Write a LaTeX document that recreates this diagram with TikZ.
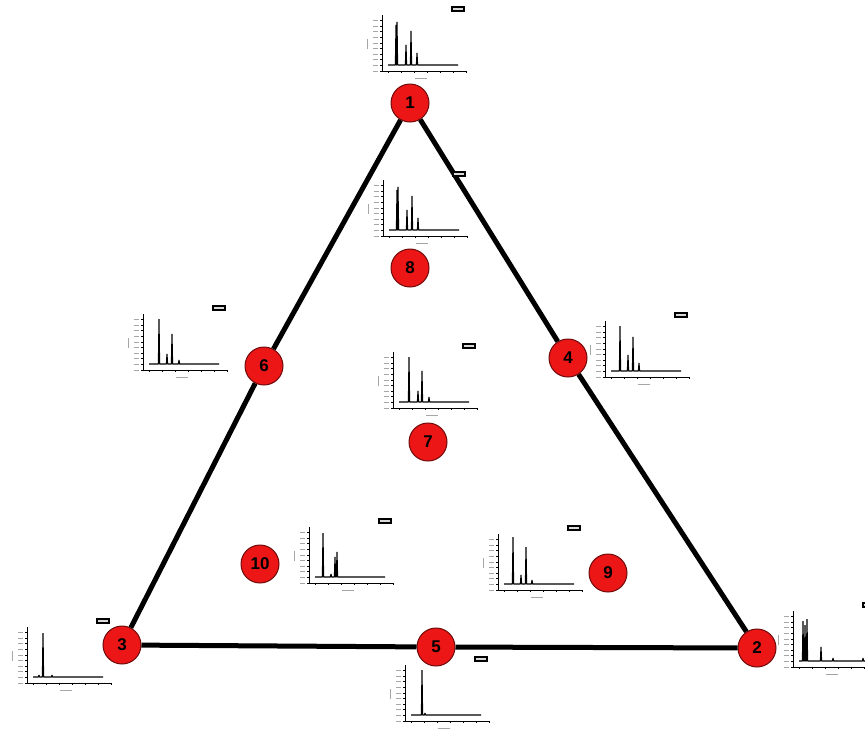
\documentclass[tikz,border=0pt]{standalone}
\usepackage{fontspec}
\setsansfont{Liberation Sans}
\usetikzlibrary{positioning}

\definecolor{vermelho}{RGB}{236,22,22}
\definecolor{bordo}{RGB}{110,10,10}

% small chromatogram: #1 axis corner, #2 list of peaks (position/height)
\newcommand{\crom}[2]{%
  \begin{scope}[shift={#1}]
    \draw[eixo] (0,-56) -- (0,0) -- (85,0);
    \foreach \t in {0,...,9} \draw[eixo] (-2,-\t*5.6) -- (0,-\t*5.6);
    \foreach \t in {0,...,9} \draw[rotulo] (-9,-\t*5.6) -- (-4,-\t*5.6);
    \foreach \t in {0,...,6} \draw[eixo] (6+\t*13,0) -- (6+\t*13,2);
    \draw[rotulo] (-15,-32) -- (-15,-22);
    \draw[rotulo] (33,7) -- (45,7);
    \draw[legenda] (70,-64) rectangle (82,-60);
    \draw[traco] (6,-6) \foreach \p/\h in {#2} { -- (\p-0.6,-6) -- (\p,-6-\h) -- (\p+0.6,-6) } -- (76,-6);
  \end{scope}}

\begin{document}
\begin{tikzpicture}[
    x=1pt, y=-1pt,
    ponto/.style={circle, draw=bordo, line width=1pt, fill=vermelho,
                  minimum size=38pt, inner sep=0pt,
                  font=\fontsize{17}{17}\selectfont\bfseries\sffamily},
    lado/.style={line width=5pt, black},
    eixo/.style={line width=1pt, black},
    rotulo/.style={line width=0.8pt, black!35},
    legenda/.style={line width=1.2pt, black, fill=black!15},
    traco/.style={line width=1.1pt, black, line join=bevel}
  ]
  \clip (0,0) rectangle (865,729);

  % Pontos do triangulo
  \node[ponto] (n1)  at (410,103) {1};
  \node[ponto] (n2)  at (757,648) {2};
  \node[ponto] (n3)  at (122,645) {3};
  \node[ponto] (n4)  at (568,358) {4};
  \node[ponto] (n5)  at (436,647) {5};
  \node[ponto] (n6)  at (264,366) {6};
  \node[ponto] (n7)  at (428,442) {7};
  \node[ponto] (n8)  at (410,268) {8};
  \node[ponto] (n9)  at (608,573) {9};
  \node[ponto] (n10) at (260,564) {10};

  % Lados
  \foreach \a/\b in {n1/n4, n4/n2, n2/n5, n5/n3, n3/n6, n6/n1}
    \draw[lado] (\a) -- (\b);

  % Cromatogramas
  \crom{(382,71)}{14/40, 15/43, 24/20, 29/34, 35/12}
  \crom{(383,236)}{14/40, 15/43, 24/20, 29/34, 35/12}
  \crom{(143,370)}{16/45, 24/10, 29/30, 36/4}
  \crom{(605,377)}{15/45, 23/16, 28/34, 34/8}
  \crom{(393,408)}{16/45, 25/11, 29/31, 36/5}
  \crom{(309,583)}{14/44, 22/3, 26/20, 28/25}
  \crom{(498,590)}{15/47, 23/9, 28/37, 34/4}
  \crom{(27,683)}{12/2, 16/44, 25/2}
  \crom{(405,721)}{17/45, 20/2}
  \crom{(793,667)}{10/40, 12/36, 14/42, 28/14, 40/3, 70/3}
\end{tikzpicture}
\end{document}
